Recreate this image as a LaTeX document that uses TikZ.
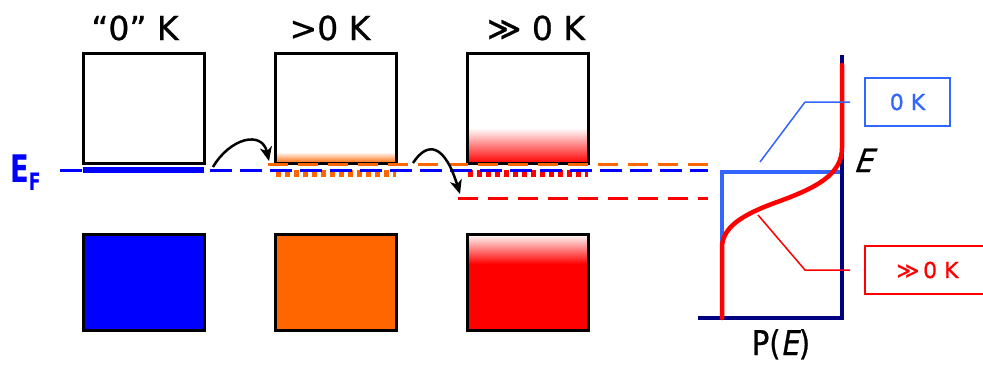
\documentclass[tikz,border=0pt]{standalone}
\usepackage{fontspec}
\setmainfont{DejaVu Sans}
\newfontfamily\heavyfont{DejaVu Sans}[FakeBold=0.8]
\usetikzlibrary{arrows.meta}
\definecolor{eblue}{RGB}{0,0,255}
\definecolor{eorange}{RGB}{255,102,0}
\definecolor{ered}{RGB}{255,0,0}
\definecolor{lblue}{RGB}{51,102,255}
\definecolor{navyc}{RGB}{0,0,128}
\begin{document}
\begin{tikzpicture}[x=1pt,y=-1pt,
  band/.style={draw=black,line width=3pt,minimum width=121pt,inner sep=0pt,anchor=center},
  upper/.style={band,minimum height=110pt},
  lower/.style={band,minimum height=96pt},
  title/.style={font=\heavyfont\fontsize{33}{33}\selectfont,anchor=base,inner sep=0pt},
  hop/.style={-{Stealth[length=14pt,width=12pt,inset=4pt]},line width=2.5pt,black},
  fermi/.style={line width=3pt,dash pattern=on 22pt off 8pt},
  level/.style={line width=3pt,dash pattern=on 20pt off 10pt},
  dots/.style={line width=7pt,dash pattern=on 5pt off 4pt},
  callout/.style={line width=1.5pt},
  tagbox/.style={draw,line width=1.5pt,inner sep=0pt,font=\heavyfont\fontsize{22}{22}\selectfont},
]
\clip (0,0) rectangle (983,376);
\useasboundingbox (0,0) rectangle (983,376);

% titles
\node[title] (t1) at (135,40) {“0” K};
\node[title] (t2) at (330,40) {>0 K};
\node[title] (t3) at (536,40) {≫ 0 K};

% E_F label
\node[anchor=base west,inner sep=0pt,text=eblue,font=\fontsize{38}{38}\selectfont\bfseries] (ef) at (10,182)
  {\scalebox{0.72}[1]{E}\raisebox{-8pt}{\fontsize{24}{24}\selectfont\bfseries\scalebox{0.72}[1]{F}}};

% shadings
\shade[top color=white,bottom color=eorange] (275,152) rectangle (396,163);
\shade[top color=white,bottom color=ered] (467,128) rectangle (588,163);
\fill[eblue] (83,234) rectangle (204,330);
\fill[eorange] (275,234) rectangle (396,330);
\fill[ered] (467,262) rectangle (588,330);
\shade[top color=white,bottom color=ered] (467,234) rectangle (588,264);

% boxes
\node[upper] (u1) at (143.5,108) {};
\node[upper] (u2) at (335.5,108) {};
\node[upper] (u3) at (527.5,108) {};
\node[lower] (l1) at (143.5,282) {};
\node[lower] (l2) at (335.5,282) {};
\node[lower] (l3) at (527.5,282) {};

% coordinates for levels
\coordinate (fL) at (60,170);
\coordinate (fR) at (708,170);
\coordinate (oL) at (268,164);
\coordinate (oR) at (710,164);
\coordinate (rL) at (458,198);
\coordinate (rR) at (708,198);

% dotted bands
\draw[dots,eorange] (276,173) -- (396,173);
\draw[dots,ered] (468,173) -- (588,173);
% levels
\draw[level,eorange] (oL) -- (oR);
\draw[fermi,eblue] (fL) -- (fR);
\draw[line width=6pt,eblue] (83,170) -- (204,170);
\draw[level,ered] (rL) -- (rR);

% hop arrows
\coordinate (h1s) at (213,167);
\coordinate (h1e) at (269,161);
\coordinate (h2s) at (413,163);
\coordinate (h2e) at (460,194);
\draw[hop] (h1s) .. controls (230,138) and (262,130) .. (h1e);
\draw[hop] (h2s) .. controls (428,140) and (445,145) .. (h2e);

% right plot
\coordinate (ax0) at (842,318);
\coordinate (axT) at (842,55);
\coordinate (axL) at (698,318);
\draw[line width=3.5pt,lblue] (722,250) -- (722,172) -- (842,172);
\draw[line width=4pt,navyc] (axT) -- (ax0) -- (axL);
\draw[line width=4.5pt,ered,line cap=round] (722,318) -- (722,248)
   .. controls (722,228) and (740,215) .. (780,201)
   .. controls (815,188) and (842,175) .. (842,148) -- (842,65);

\node[anchor=base west,inner sep=0pt,font=\heavyfont\fontsize{32}{32}\selectfont\itshape] (elab) at (855,172) {\scalebox{0.9}[1]{\fontspec{DejaVu Sans}[FakeBold=0.8,FakeSlant=0.2]E}};
\node[anchor=base,inner sep=0pt,font=\heavyfont\fontsize{34}{34}\selectfont] (pe) at (781,355)
  {\scalebox{0.85}[1]{P(\fontspec{DejaVu Sans}[FakeBold=0.8,FakeSlant=0.2]E\heavyfont)}};

% callouts
\node[tagbox,draw=lblue,text=lblue,minimum width=85pt,minimum height=48pt] (k0) at (907.5,102) {0 K};
\node[tagbox,draw=ered,text=ered,minimum width=125pt,minimum height=48pt] (kh) at (927.5,270) {≫\,0 K};
\coordinate (c1a) at (760,162);
\coordinate (c1b) at (805,102);
\coordinate (c1c) at (850,102);
\coordinate (c2a) at (758,215);
\coordinate (c2b) at (805,270);
\coordinate (c2c) at (850,270);
\draw[callout,lblue] (c1a) -- (c1b) -- (c1c);
\draw[callout,ered] (c2a) -- (c2b) -- (c2c);
\end{tikzpicture}
\end{document}
